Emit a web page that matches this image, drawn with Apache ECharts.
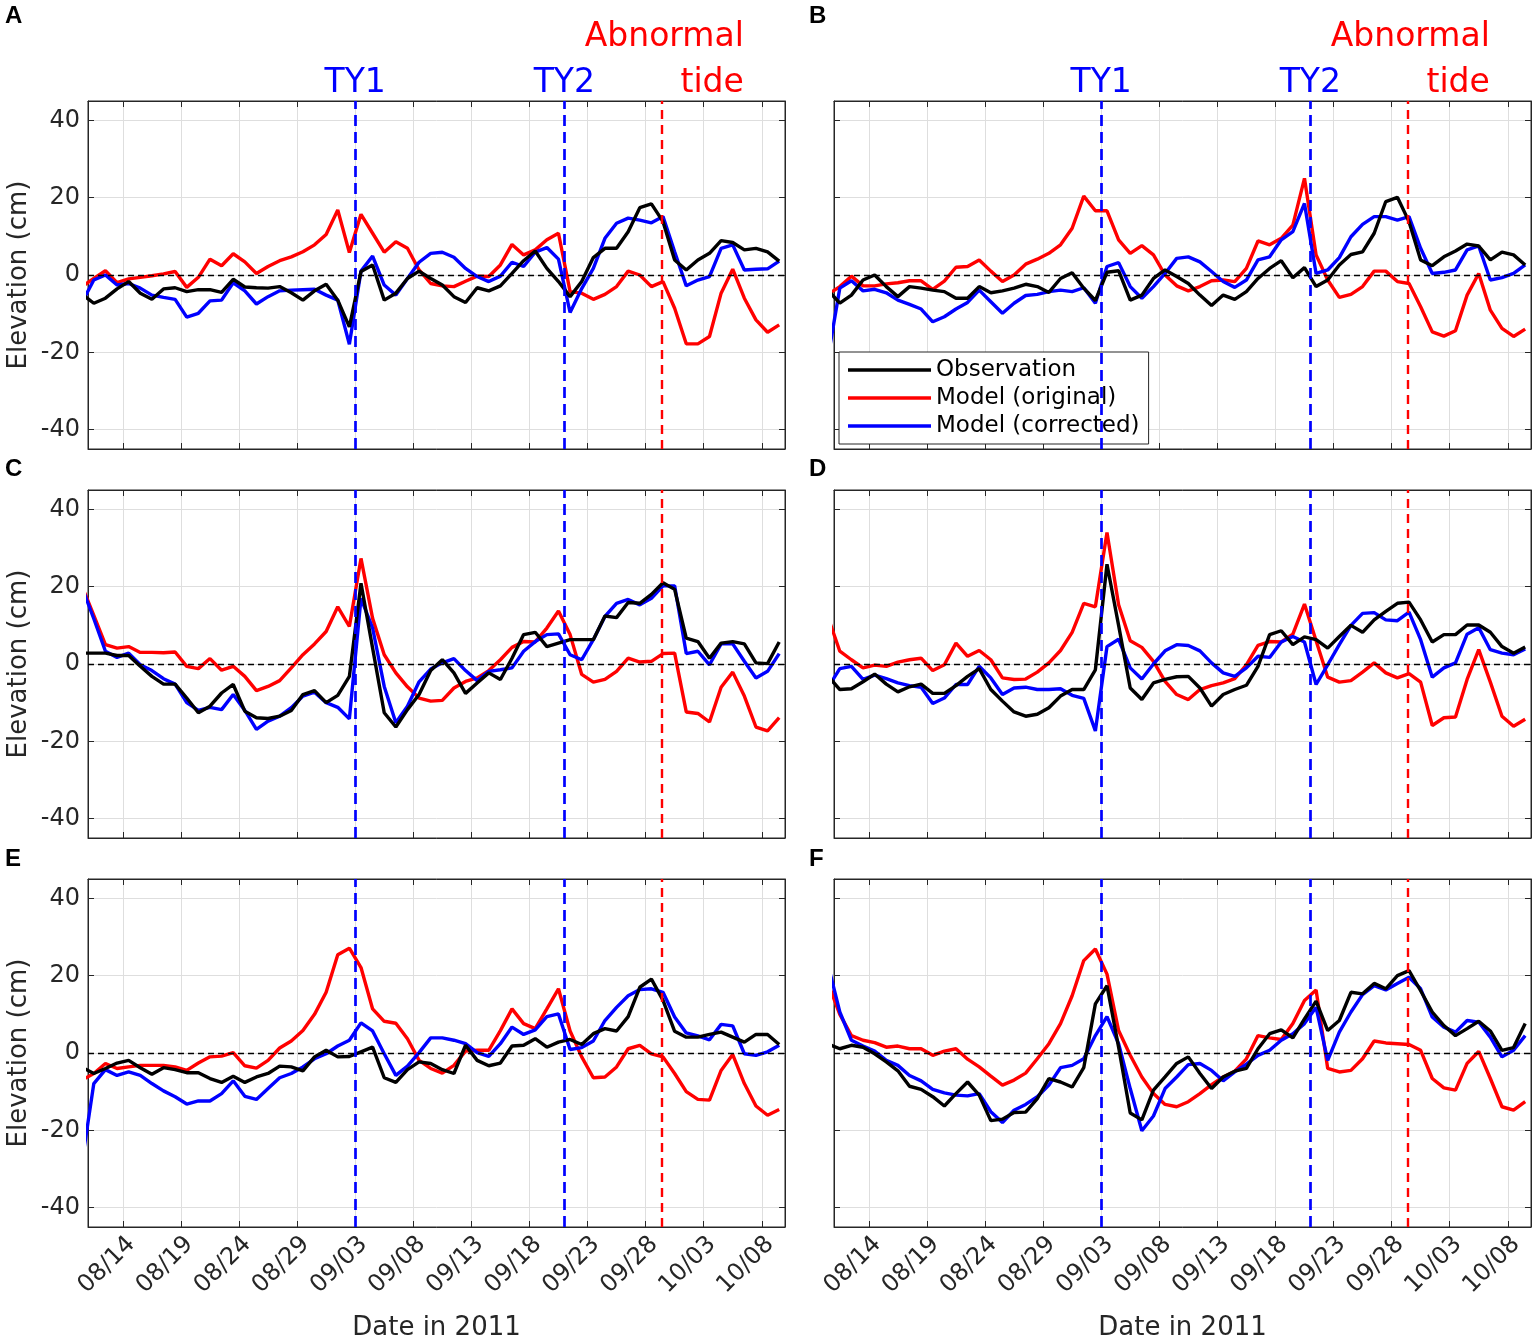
<!DOCTYPE html>
<html>
<head>
<meta charset="utf-8">
<script src="https://cdn.jsdelivr.net/npm/echarts@6.0.0/dist/echarts.min.js"></script>
<style>
  html, body { margin: 0; padding: 0; background: #fff; }
  #main { width: 1535px; height: 1339px; }
</style>
</head>
<body>
<div id="main"></div>
<script>
// x = days since 08/11/2011, daily means plotted at noon (first value is 08/10 noon, clipped)
var tickDays = [3, 8, 13, 18, 23, 28, 33, 38, 43, 48, 53, 58];
var tickLabels = ['08/14', '08/19', '08/24', '08/29', '09/03', '09/08', '09/13', '09/18', '09/23', '09/28', '10/03', '10/08'];
var yTicks = [-40, -20, 0, 20, 40];
var eventDays = [23, 41, 49.4];          // TY1, TY2, abnormal tide
var seriesNames = ['Observation', 'Model (original)', 'Model (corrected)'];

// panel A
var obsA = [-5.0, -7.3, -6.0, -3.6, -1.7, -4.7, -6.3, -3.6, -3.3, -4.3, -3.8, -3.8, -4.5, -1.1, -3.1, -3.3, -3.4, -3.0, -4.6, -6.5, -4.1,
  -2.4, -6.5, -13.4, 0.9, 2.6, -6.5, -4.7, -0.9, 1.0, -0.9,
  -2.6, -5.6, -7.1, -3.3, -4.1, -2.8, 0.4, 3.7, 6.2, 1.7, -1.7, -5.6, -1.7, 4.5, 6.9, 6.9, 11.2, 17.4, 18.4, 13.8,
  3.9, 1.3, 3.9, 5.6, 8.9, 8.4, 6.5, 6.9, 6.0, 3.6];
var origA = [-3.0, -0.9, 1.1, -2.0, -1.0, -0.6, -0.2, 0.3, 0.9, -3.2, -0.6, 4.1, 2.4, 5.5, 3.4, 0.4, 2.2, 3.7, 4.7, 6.0, 7.8,
  10.5, 16.8, 5.8, 15.7, 10.8, 5.9, 8.6, 6.9, 1.3, -2.2,
  -2.8, -3.0, -1.6, -0.3, -0.4, 2.6, 7.9, 5.2, 6.5, 9.1, 10.8, -4.3, -4.7, -6.3, -5.0, -3.0, 1.0, 0.0, -3.0, -1.7,
  -8.6, -17.8, -17.8, -15.9, -4.7, 1.5, -6.0, -11.6, -14.8, -12.9];
var corrA = [-7.0, -1.3, 0.0, -2.6, -2.2, -3.4, -5.2, -5.8, -6.3, -10.9, -9.9, -6.7, -6.5, -2.0, -4.1, -7.5, -5.6, -4.1, -3.9, -3.8, -3.7,
  -5.2, -6.5, -17.9, 1.0, 4.9, -2.6, -5.2, -0.9, 3.3, 5.6,
  5.9, 4.6, 1.7, -0.4, -1.7, -0.3, 3.3, 2.2, 5.9, 7.1, 4.1, -9.7, -3.5, 1.7, 9.5, 13.4, 14.7, 14.2, 13.5, 15.1,
  6.0, -2.8, -1.3, -0.4, 6.9, 7.8, 1.3, 1.5, 1.6, 3.6];

// panel B
var obsB = [-4.0, -7.3, -5.2, -1.3, 0.0, -3.0, -5.6, -3.0, -3.4, -3.9, -4.3, -6.0, -6.0, -3.0, -4.6, -4.1, -3.4, -2.4, -3.0, -4.5, -0.9,
  0.6, -3.4, -6.6, 0.7, 1.1, -6.5, -5.2, -0.9, 1.3, -0.4,
  -2.2, -5.2, -7.9, -5.2, -6.3, -4.3, -0.9, 1.7, 3.7, -0.7, 1.9, -3.0, -1.3, 2.6, 5.3, 6.0, 10.8, 19.0, 20.1, 13.8,
  3.9, 2.4, 4.7, 6.2, 8.0, 7.5, 3.9, 5.9, 5.2, 2.6];
var origB = [-5.0, -3.0, -0.3, -2.8, -2.8, -2.3, -2.0, -1.5, -1.5, -3.7, -1.6, 2.0, 2.2, 3.9, 1.0, -1.7, 0.0, 2.8, 4.1, 5.6, 7.8,
  12.1, 20.4, 16.6, 16.6, 9.1, 5.6, 7.6, 5.2, 0.0, -2.8,
  -4.1, -3.0, -1.5, -1.3, -1.7, 1.7, 8.8, 7.8, 9.5, 12.9, 25.0, 5.2, -1.3, -5.8, -5.0, -3.0, 1.0, 1.0, -1.7, -2.2,
  -8.2, -14.7, -15.8, -14.4, -5.2, 0.4, -9.1, -13.8, -15.9, -14.0];
var corrB = [-21.0, -3.4, -1.5, -4.1, -3.7, -4.6, -6.5, -7.6, -8.8, -12.1, -10.8, -8.8, -7.1, -3.9, -6.9, -9.9, -7.3, -5.3, -5.0, -4.3, -3.9,
  -4.3, -3.3, -7.3, 2.2, 3.2, -3.0, -6.0, -3.0, 0.4, 4.3,
  4.7, 3.4, 0.9, -1.7, -3.2, -1.3, 3.9, 4.7, 9.1, 11.2, 18.5, 0.4, 1.3, 4.5, 9.9, 13.1, 15.1, 15.1, 14.2, 15.1,
  6.9, 0.4, 0.7, 1.3, 6.5, 7.5, -1.3, -0.7, 0.4, 2.6];

// panel C
var obsC = [2.8, 2.8, 2.8, 2.2, 2.2, -0.6, -3.2, -5.2, -5.2, -8.8, -12.6, -10.9, -7.5, -5.3, -12.2, -13.9, -14.1, -13.5, -12.0, -7.9, -6.9,
  -10.0, -8.1, -3.2, 20.9, 4.1, -12.6, -16.3, -11.8, -7.9, -1.7,
  1.1, -2.3, -7.6, -4.9, -2.3, -4.0, 1.5, 7.6, 8.2, 4.5, 5.4, 6.3, 6.3, 6.3, 12.4, 12.0, 15.9, 15.7, 18.0, 21.0,
  19.3, 6.7, 5.8, 1.5, 5.4, 5.8, 5.2, 0.3, 0.1, 5.7];
var origC = [20.0, 12.6, 5.0, 4.1, 4.5, 3.0, 3.0, 2.9, 3.1, -0.6, -1.2, 1.4, -1.6, -0.6, -3.2, -6.9, -5.8, -4.3, -1.0, 2.4, 5.2,
  8.4, 14.8, 9.7, 27.3, 11.8, 2.4, -2.3, -5.9, -8.8, -9.6,
  -9.4, -6.2, -4.5, -3.6, -1.7, 1.1, 4.3, 5.8, 5.7, 9.3, 13.7, 7.6, -2.7, -4.7, -4.0, -1.9, 1.5, 0.5, 0.7, 2.7,
  2.8, -12.4, -12.8, -15.0, -6.0, -2.1, -8.3, -16.3, -17.3, -13.9];
var corrC = [19.7, 11.7, 3.3, 1.7, 2.8, -0.2, -1.7, -3.8, -5.2, -10.0, -12.0, -11.2, -11.8, -7.9, -12.0, -16.9, -14.8, -13.5, -11.3, -8.3, -7.3,
  -10.0, -11.2, -14.2, 17.0, 9.3, -5.8, -15.2, -10.9, -4.6, -1.3,
  0.3, 1.4, -1.7, -4.3, -1.9, -1.5, -1.0, 3.3, 5.8, 7.6, 7.8, 2.4, 1.1, 6.3, 12.3, 15.7, 16.7, 15.3, 17.0, 20.2,
  20.2, 2.7, 3.3, -0.2, 5.2, 5.2, 0.7, -3.6, -1.9, 2.7];

// panel D
var obsD = [-3.2, -6.6, -6.4, -4.6, -2.6, -5.2, -7.2, -5.9, -5.2, -7.6, -7.6, -5.6, -3.2, -1.2, -6.6, -9.6, -12.4, -13.5, -13.0, -11.3, -8.3,
  -6.6, -6.6, -1.5, 25.8, 10.0, -6.2, -9.2, -4.9, -4.0, -3.3,
  -3.2, -6.2, -10.9, -7.9, -6.6, -5.5, -0.6, 7.6, 8.6, 5.0, 7.0, 6.3, 4.1, 7.1, 10.0, 8.2, 11.4, 13.6, 15.7, 16.0,
  11.4, 5.7, 7.6, 7.6, 10.1, 10.1, 8.2, 4.5, 2.8, 4.4];
var origD = [12.0, 3.3, 1.1, -1.0, -0.3, -0.6, 0.5, 1.1, 1.5, -1.7, -0.2, 5.4, 2.0, 3.5, 1.1, -3.6, -4.0, -3.9, -2.1, 0.3, 3.5,
  8.2, 15.7, 14.8, 34.0, 15.3, 6.0, 4.3, 0.7, -4.5, -7.9,
  -9.2, -6.6, -5.6, -4.9, -3.8, -0.2, 4.8, 5.8, 5.7, 7.7, 15.5, 6.0, -3.4, -4.7, -4.3, -2.1, 0.3, -2.3, -3.6, -2.5,
  -4.7, -15.9, -13.9, -13.7, -4.0, 3.7, -4.7, -13.5, -16.1, -14.3];
var corrD = [-6.0, -1.2, -0.6, -4.0, -2.9, -3.8, -4.9, -5.6, -6.0, -10.2, -8.8, -5.3, -5.3, -0.6, -3.6, -7.9, -6.2, -6.0, -6.6, -6.6, -6.4,
  -8.1, -8.9, -17.3, 4.5, 6.4, -1.0, -3.9, 0.0, 3.4, 5.0,
  4.8, 3.4, 0.3, -2.3, -3.2, -1.0, 2.0, 1.7, 5.7, 7.1, 5.7, -5.3, -0.2, 5.0, 10.0, 13.1, 13.3, 11.4, 11.2, 13.4,
  6.3, -3.4, -1.0, 0.3, 7.7, 9.4, 3.7, 2.8, 2.4, 3.9];

// panel E
var obsE = [-3.7, -5.3, -4.0, -2.6, -1.9, -3.8, -5.5, -3.8, -4.3, -5.1, -5.1, -6.6, -7.6, -6.0, -7.6, -6.2, -5.3, -3.4, -3.6, -4.6, -1.0,
  0.7, -1.0, -0.9, 0.3, 1.5, -6.4, -7.6, -4.3, -2.3, -2.7,
  -4.3, -5.3, 2.0, -1.9, -3.3, -2.6, 1.8, 2.0, 3.7, 1.5, 2.8, 3.5, 2.2, 5.0, 6.3, 5.7, 9.4, 17.0, 19.1, 13.6,
  5.6, 4.1, 4.1, 4.8, 5.4, 4.1, 2.8, 4.8, 4.8, 2.2];
var origE = [-7.0, -5.3, -2.7, -4.0, -3.6, -3.2, -3.2, -3.2, -3.6, -4.5, -2.6, -1.0, -0.8, 0.1, -3.3, -3.9, -1.9, 1.3, 3.1, 5.8, 10.0,
  15.7, 25.4, 27.1, 22.1, 11.4, 8.2, 7.7, 3.7, -1.9, -4.0,
  -5.2, -3.2, 0.5, 0.7, 0.7, 5.8, 11.4, 7.6, 6.3, 11.4, 16.6, 5.7, -1.0, -6.4, -6.2, -3.6, 1.1, 2.0, -0.2, -1.0,
  -5.3, -10.0, -12.0, -12.2, -4.5, -0.4, -7.9, -13.7, -16.1, -14.6];
var corrE = [-28.0, -7.9, -4.3, -5.8, -4.9, -5.8, -7.9, -9.8, -11.3, -13.2, -12.4, -12.4, -10.5, -7.2, -11.2, -12.0, -9.2, -6.4, -5.3, -3.6, -1.5,
  -0.2, 1.8, 3.3, 7.8, 5.7, -0.2, -5.8, -3.4, 0.1, 3.9,
  3.9, 3.3, 2.4, 0.1, -0.9, 2.4, 6.7, 4.8, 6.0, 9.4, 10.1, 0.9, 1.4, 3.1, 8.4, 11.8, 14.8, 16.4, 16.6, 15.7,
  9.3, 5.2, 4.4, 3.4, 7.4, 7.0, -0.2, -0.6, 0.3, 2.0];

// panel F
var obsF = [2.3, 1.1, 2.0, 1.5, -0.2, -2.3, -4.6, -8.6, -9.4, -11.3, -13.7, -10.5, -7.5, -10.9, -17.5, -17.1, -15.4, -15.3, -11.8, -6.6, -7.5,
  -8.8, -3.8, 12.7, 17.4, 1.5, -15.5, -17.3, -9.6, -6.2, -2.7,
  -1.0, -5.3, -9.2, -6.2, -4.7, -4.0, 1.1, 5.0, 6.0, 3.9, 8.8, 13.4, 5.8, 8.4, 15.7, 15.3, 18.0, 16.6, 20.0, 21.3,
  16.1, 10.6, 7.1, 4.5, 6.3, 8.2, 5.7, 0.7, 1.4, 7.6];
var origF = [18.0, 10.0, 4.5, 3.3, 2.7, 1.5, 1.8, 1.1, 1.1, -0.6, 0.5, 1.1, -1.6, -3.6, -6.0, -8.3, -7.0, -5.2, -1.5, 2.4, 7.6,
  14.8, 23.9, 26.9, 20.4, 5.8, -0.6, -6.2, -10.5, -13.3, -13.9,
  -12.6, -10.5, -8.2, -6.2, -4.7, -1.5, 4.5, 3.9, 3.5, 7.6, 13.6, 16.3, -4.0, -4.9, -4.5, -1.5, 3.1, 2.6, 2.4, 2.2,
  0.7, -6.6, -9.0, -9.6, -2.7, 0.4, -6.6, -13.9, -14.8, -12.6];
var corrF = [22.6, 10.6, 3.3, 1.8, 0.5, -1.9, -3.2, -5.8, -7.2, -9.4, -10.3, -10.9, -11.1, -10.5, -15.2, -18.0, -14.8, -13.3, -11.3, -8.3, -3.8,
  -3.2, -1.5, 4.5, 9.4, 2.4, -9.2, -20.1, -16.3, -9.2, -6.2,
  -3.0, -2.7, -4.5, -7.2, -4.9, -2.9, -0.6, 0.7, 3.3, 5.0, 7.6, 11.8, -1.9, 5.4, 10.6, 15.1, 17.4, 16.3, 18.0, 19.6,
  16.6, 9.3, 6.7, 5.4, 8.4, 8.0, 4.1, -1.0, 0.7, 4.5];

var panels = [
  { letter: 'A', obs: obsA, orig: origA, corr: corrA },
  { letter: 'B', obs: obsB, orig: origB, corr: corrB },
  { letter: 'C', obs: obsC, orig: origC, corr: corrC },
  { letter: 'D', obs: obsD, orig: origD, corr: corrD },
  { letter: 'E', obs: obsE, orig: origE, corr: corrE },
  { letter: 'F', obs: obsF, orig: origF, corr: corrF }
];

var FONT = 'DejaVu Sans';
var AXIS = '#262626';
var GRIDC = '#dedede';
var gridLefts = [88, 834];
var gridTops = [101, 490, 879];
var letterY = [16, 469, 859];

function toPairs(arr) {
  // one value per day, plotted at noon
  return arr.map(function (v, i) { return [i - 0.5, v]; });
}

var myChart = echarts.init(document.getElementById('main'));

var grids = [], xAxes = [], yAxes = [], series = [];

panels.forEach(function (pn, p) {
  var col = p % 2, row = Math.floor(p / 2);
  var bottomRow = row === 2, leftCol = col === 0;
  grids.push({
    left: gridLefts[col], top: gridTops[row], width: 697, height: 348,
    containLabel: false, outerBoundsMode: 'none',
    show: true, borderColor: AXIS, borderWidth: 1, backgroundColor: '#fff'
  });

  xAxes.push({
    type: 'value', gridIndex: p, min: 0, max: 60, position: 'bottom',
    axisLine: { show: true, onZero: false, lineStyle: { color: AXIS, width: 1 } },
    axisTick: { show: true, inside: true, length: 6, customValues: tickDays, lineStyle: { color: AXIS } },
    axisLabel: {
      show: bottomRow, customValues: tickDays, rotate: 45, margin: 5, verticalAlign: 'top',
      fontSize: 24, fontFamily: FONT, color: AXIS,
      formatter: function (v) { return tickLabels[tickDays.indexOf(v)]; }
    },
    splitLine: { show: true, lineStyle: { color: GRIDC, width: 1 } },
    name: bottomRow ? 'Date in 2011' : '', nameLocation: 'middle', nameGap: 88,
    nameTextStyle: { fontSize: 26, fontFamily: FONT, color: AXIS }
  });
  xAxes.push({
    type: 'value', gridIndex: p, min: 0, max: 60, position: 'top',
    axisLine: { show: true, onZero: false, lineStyle: { color: AXIS, width: 1 } },
    axisTick: { show: true, inside: true, length: 6, customValues: tickDays, lineStyle: { color: AXIS } },
    axisLabel: { show: false }, splitLine: { show: false }
  });

  yAxes.push({
    type: 'value', gridIndex: p, min: -45, max: 45, position: 'left',
    axisLine: { show: true, onZero: false, lineStyle: { color: AXIS, width: 1 } },
    axisTick: { show: true, inside: true, length: 6, customValues: yTicks, lineStyle: { color: AXIS } },
    axisLabel: { show: leftCol, customValues: yTicks, margin: 8, fontSize: 24, fontFamily: FONT, color: AXIS },
    splitLine: { show: true, lineStyle: { color: GRIDC, width: 1 } },
    name: leftCol ? 'Elevation (cm)' : '', nameLocation: 'middle', nameGap: 56,
    nameTextStyle: { fontSize: 26, fontFamily: FONT, color: AXIS }
  });
  yAxes.push({
    type: 'value', gridIndex: p, min: -45, max: 45, position: 'right',
    axisLine: { show: true, onZero: false, lineStyle: { color: AXIS, width: 1 } },
    axisTick: { show: true, inside: true, length: 6, customValues: yTicks, lineStyle: { color: AXIS } },
    axisLabel: { show: false }, splitLine: { show: false }
  });

  var xi = 2 * p, yi = 2 * p;
  function line(name, color, arr, z, extra) {
    var s = {
      type: 'line', name: name, xAxisIndex: xi, yAxisIndex: yi,
      data: toPairs(arr), symbol: 'none', showSymbol: false, clip: true,
      color: color, itemStyle: { color: color },
      lineStyle: { color: color, width: 3.4 },
      emphasis: { disabled: true }, animation: false, z: z
    };
    if (extra) s.markLine = extra;
    return s;
  }

  var marks = {
    silent: true, animation: false, symbol: ['none', 'none'], label: { show: false },
    emphasis: { disabled: true },
    data: [
      { yAxis: 0, lineStyle: { color: '#000', width: 1.4, type: [6, 4] } },
      { xAxis: eventDays[0], lineStyle: { color: '#0000ff', width: 2.7, type: [11, 6] } },
      { xAxis: eventDays[1], lineStyle: { color: '#0000ff', width: 2.7, type: [11, 6] } },
      { xAxis: eventDays[2], lineStyle: { color: '#ff0000', width: 2.4, type: [9, 6] } }
    ]
  };

  series.push(line(seriesNames[1], '#ff0000', pn.orig, 2, marks));
  series.push(line(seriesNames[2], '#0000ff', pn.corr, 3));
  series.push(line(seriesNames[0], '#000000', pn.obs, 4));
});

var option = {
  backgroundColor: '#fff',
  animation: false,
  grid: grids,
  xAxis: xAxes,
  yAxis: yAxes,
  legend: {
    data: seriesNames,
    orient: 'vertical', left: 839, top: 352,
    icon: 'rect', itemWidth: 83, itemHeight: 3.5, itemGap: 4,
    padding: [6, 9, 6, 9],
    borderColor: AXIS, borderWidth: 1, backgroundColor: '#fff',
    selectedMode: false,
    textStyle: { fontSize: 23, fontFamily: FONT, color: '#000', lineHeight: 24 }
  },
  series: series
};

myChart.setOption(option);

// annotations placed through the axis scale
var texts = [];
panels.forEach(function (pn, p) {
  var col = p % 2, row = Math.floor(p / 2);
  texts.push({
    type: 'text', x: col === 0 ? 5 : 809, y: letterY[row], silent: true,
    style: { text: pn.letter, font: 'bold 24px "Liberation Sans"', fill: '#000', verticalAlign: 'middle' }
  });
});
[0, 1].forEach(function (p) {
  var x1 = myChart.convertToPixel({ xAxisIndex: 2 * p }, eventDays[0]);
  var x2 = myChart.convertToPixel({ xAxisIndex: 2 * p }, eventDays[1]);
  var x3 = myChart.convertToPixel({ xAxisIndex: 2 * p }, eventDays[2]);
  texts.push({ type: 'text', x: x1, y: 83, silent: true,
    style: { text: 'TY1', fontSize: 33, fontFamily: FONT, fill: '#0000ff', align: 'center', verticalAlign: 'middle' } });
  texts.push({ type: 'text', x: x2, y: 83, silent: true,
    style: { text: 'TY2', fontSize: 33, fontFamily: FONT, fill: '#0000ff', align: 'center', verticalAlign: 'middle' } });
  texts.push({ type: 'text', x: x3 + 82, y: 60, silent: true,
    style: { text: 'Abnormal\ntide', fontSize: 33, lineHeight: 46, fontFamily: FONT, fill: '#ff0000', align: 'right', verticalAlign: 'middle' } });
});

myChart.setOption({ graphic: texts });
</script>
</body>
</html>
